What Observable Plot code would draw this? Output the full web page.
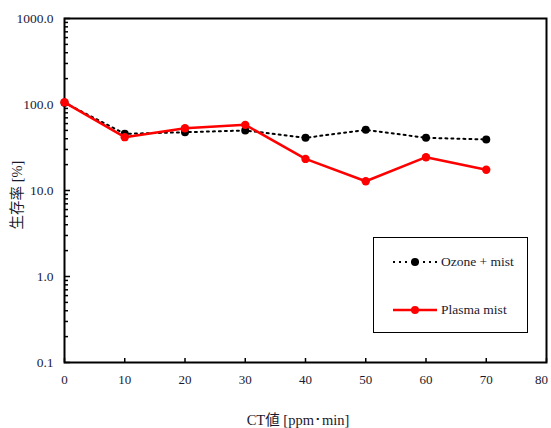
<!DOCTYPE html>
<html><head><meta charset="utf-8">
<script src="https://cdn.jsdelivr.net/npm/d3@7"></script>
<script src="https://cdn.jsdelivr.net/npm/@observablehq/plot@0.6"></script>
<style>
body{margin:0;background:#fff;}
#wrap{position:relative;width:551px;height:428px;font-family:"Liberation Serif",serif;}
.lbl{position:absolute;color:#1a1a2e;white-space:nowrap;font-family:"Liberation Serif",serif;}
#legend{position:absolute;left:373px;top:237px;width:153px;height:94px;border:1.5px solid #000;background:#fff;}
.entry{position:absolute;left:18px;font-size:13.5px;color:#1a1a2e;display:flex;align-items:center;font-family:"Liberation Serif",serif;}
.entry svg{margin-right:3px;}
</style></head>
<body><div id="wrap"></div>
<script>
const ctValues = [0, 10, 20, 30, 40, 50, 60, 70];
const ozoneMist = [105, 45.6, 47.6, 49.9, 41, 50.7, 41, 39.2];
const plasmaMist = [106, 41.7, 53, 58, 23.3, 12.8, 24.4, 17.4];
const xTicks = [0, 10, 20, 30, 40, 50, 60, 70, 80];
const yMajor = [0.1, 1, 10, 100, 1000];
const yMinor = [];
for (const d of [0.1, 1, 10, 100]) for (let k = 2; k <= 9; k++) yMinor.push(+(d * k).toPrecision(3));
const seriesNames = ["Ozone + mist", "Plasma mist"];

const ozone = ctValues.map((x, i) => ({x, y: ozoneMist[i]}));
const plasma = ctValues.map((x, i) => ({x, y: plasmaMist[i]}));
const font = "Liberation Serif";

const chart = Plot.plot({
  width: 551, height: 428,
  marginLeft: 64, marginRight: 5, marginTop: 18, marginBottom: 66,
  style: {background: "#fff", fontFamily: font},
  x: {domain: [0, 80]},
  y: {type: "log", domain: [0.1, 1000]},
  marks: [
    Plot.axisY({ticks: yMajor, tickSize: 0, tickPadding: 11, tickFormat: d => d.toFixed(1), fontSize: 13.5, fontFamily: font, fill: "#1a1a3a", label: null}),
    Plot.axisY({ticks: yMajor, tickSize: 6, dx: 6, tickFormat: () => "", label: null, strokeWidth: 1.5}),
    Plot.axisY({ticks: yMinor, tickSize: 4, dx: 4, tickFormat: () => "", label: null, strokeWidth: 1.5}),
    Plot.axisX({ticks: xTicks.slice(0, -1), tickSize: 0, tickPadding: 12, fontSize: 13, fontFamily: font, fill: "#1a1a2e", label: null}),
    Plot.axisX({ticks: xTicks.slice(-1), tickSize: 0, tickPadding: 12, dx: -5, fontSize: 13, fontFamily: font, fill: "#1a1a2e", label: null}),
    Plot.axisX({ticks: xTicks, tickSize: 4, dy: -4, tickFormat: () => "", label: null, strokeWidth: 1.5}),
    Plot.frame({stroke: "#000", strokeWidth: 2}),
    Plot.line(ozone, {x: "x", y: "y", stroke: "#000", strokeWidth: 2, strokeDasharray: "2,4"}),
    Plot.dot(ozone, {x: "x", y: "y", r: 4, fill: "#000"}),
    Plot.line(plasma, {x: "x", y: "y", stroke: "#ff0000", strokeWidth: 2.5}),
    Plot.dot(plasma, {x: "x", y: "y", r: 4.2, fill: "#ff0000"})
  ]
});
const wrap = document.getElementById("wrap");
wrap.appendChild(chart);

const yl = document.createElement("div");
yl.className = "lbl";
yl.style.cssText = "left:15px;top:195px;font-size:14.5px;transform:translate(-50%,-50%) rotate(-90deg);";
yl.innerHTML = '<span style="font-family:\'Noto Sans CJK JP\'">生存率</span> [%]';
wrap.appendChild(yl);

const xl = document.createElement("div");
xl.className = "lbl";
xl.style.cssText = "left:298px;top:418px;font-size:14.5px;transform:translate(-50%,-50%);";
xl.innerHTML = 'CT<span style="font-family:\'Noto Sans CJK JP\'">値</span> [ppm･min]';
wrap.appendChild(xl);

const lg = document.createElement("div");
lg.id = "legend";
lg.innerHTML =
  `<div class="entry" style="top:16px"><svg width="46" height="10"><line x1="1" y1="5" x2="45" y2="5" stroke="#000" stroke-width="2" stroke-dasharray="2,4"/><circle cx="23" cy="5" r="4" fill="#000"/></svg>${seriesNames[0]}</div>` +
  `<div class="entry" style="top:64px"><svg width="46" height="10"><line x1="1" y1="5" x2="45" y2="5" stroke="#ff0000" stroke-width="2.5"/><circle cx="23" cy="5" r="4" fill="#ff0000"/></svg>${seriesNames[1]}</div>`;
wrap.appendChild(lg);
</script></body></html>
